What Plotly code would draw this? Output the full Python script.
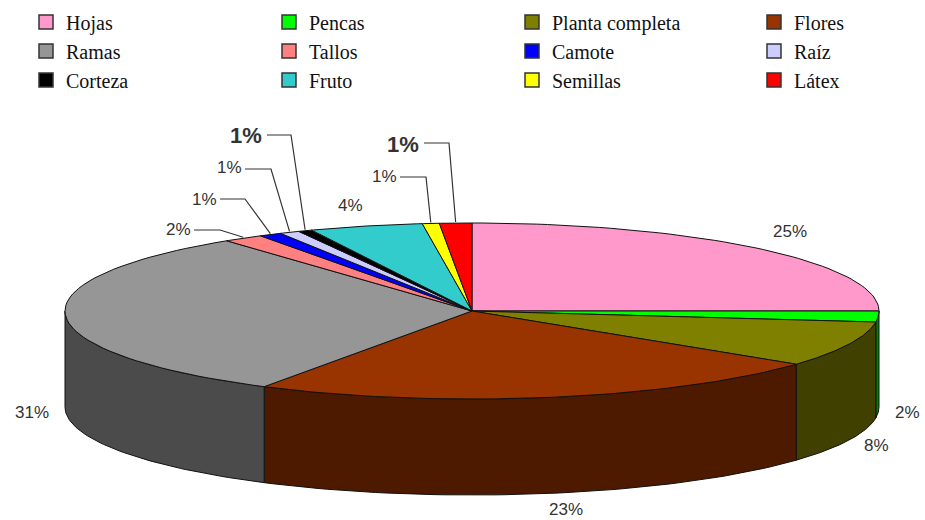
import numpy as np
import plotly.graph_objects as go

categories = ["Hojas", "Pencas", "Planta completa", "Flores", "Ramas", "Tallos",
              "Camote", "Raíz", "Corteza", "Fruto", "Semillas", "Látex"]
# shares, the printed labels are rounded
shares = [25.0, 2.0, 8.33, 23.2, 31.17, 1.6, 0.9, 0.8, 0.55, 4.5, 0.67, 1.28]
pct_labels = ["25%", "2%", "8%", "23%", "31%", "2%", "1%", "1%", "1%", "4%", "1%", "1%"]
top_colors = ["#ff99cc", "#00ff00", "#808000", "#993300", "#969696", "#ff8080",
              "#0000ff", "#ccccff", "#000000", "#33cccc", "#ffff00", "#ff0000"]
side_colors = ["#804d66", "#008000", "#404000", "#4d1a00", "#4b4b4b", "#804040",
               "#000080", "#666680", "#000000", "#1a6666", "#808000", "#800000"]

# pie geometry, in page pixels
CX, CY = 472, 311
RX, RY = 407, 88
DEPTH = 96

# label placement (text centre), and the elbow of the leader line if it has one
label_pos = [(790, 231), (907, 412), (876, 445), (566, 509), (32, 412), (178, 229),
             (204, 199), (229, 167), (246, 135), (350, 205), (384, 176), (403, 144)]
label_elbow = [None, None, None, None, None, (220, 230),
               (245, 199), (271, 169), (291, 135), None, (426, 177), (449, 143)]
label_bold = [False] * 8 + [True, False, False, True]


def rim(deg, drop=0):
    t = np.radians(deg)
    return CX + RX * np.cos(t), CY + RY * np.sin(t) + drop


edges = -90 + 3.6 * np.concatenate([[0], np.cumsum(shares)])
fig = go.Figure()

# side wall, only the front half of the disc shows
for i, color in enumerate(side_colors):
    a0, a1 = max(edges[i], 0), min(edges[i + 1], 180)
    if a1 <= a0:
        continue
    t = np.linspace(a0, a1, 60)
    x_top, y_top = rim(t)
    x_bot, y_bot = rim(t[::-1], DEPTH)
    fig.add_trace(go.Scatter(
        x=np.r_[x_top, x_bot, x_top[0]], y=np.r_[y_top, y_bot, y_top[0]],
        mode="lines", fill="toself", fillcolor=color,
        line=dict(color="#111111", width=1), hoverinfo="skip", showlegend=False))

# top face
for i, color in enumerate(top_colors):
    t = np.linspace(edges[i], edges[i + 1], 60)
    x_arc, y_arc = rim(t)
    fig.add_trace(go.Scatter(
        x=np.r_[CX, x_arc, CX], y=np.r_[CY, y_arc, CY],
        mode="lines", fill="toself", fillcolor=color,
        line=dict(color="#111111", width=1), name=categories[i],
        text=f"{categories[i]} {pct_labels[i]}", hoverinfo="text", showlegend=False))

# leader lines
for i, elbow in enumerate(label_elbow):
    if elbow is None:
        continue
    lx, ly = label_pos[i]
    half = 21 if label_bold[i] else 16
    end_x, end_y = rim((edges[i] + edges[i + 1]) / 2)
    fig.add_trace(go.Scatter(
        x=[lx + half, elbow[0], end_x], y=[elbow[1], elbow[1], end_y - 1],
        mode="lines", line=dict(color="#333333", width=1.2),
        hoverinfo="skip", showlegend=False))

# one legend per column, the four columns do not fit a single wrapped legend
legend_names = ["legend", "legend2", "legend3", "legend4"]
for i, name in enumerate(categories):
    col = i % 4
    fig.add_trace(go.Scatter(
        x=[None], y=[None], mode="markers", name=name,
        marker=dict(symbol="square", size=14, color=top_colors[i],
                    line=dict(color="#333333", width=1.5)),
        legend=legend_names[col]))

for i, txt in enumerate(pct_labels):
    fig.add_annotation(
        x=label_pos[i][0], y=label_pos[i][1], text=f"<b>{txt}</b>" if label_bold[i] else txt,
        showarrow=False, xanchor="center", yanchor="middle",
        font=dict(family="Liberation Sans", size=22 if label_bold[i] else 17, color="#333333"))

legend_style = dict(
    orientation="v", xanchor="left", yanchor="top", y=1 - 2.5 / 520,
    bgcolor="rgba(0,0,0,0)", borderwidth=0,
    font=dict(family="Liberation Serif", size=20, color="#111111"))

fig.update_layout(
    width=925, height=520, margin=dict(l=0, r=0, t=0, b=0),
    paper_bgcolor="white", plot_bgcolor="white",
    xaxis=dict(range=[0, 925], visible=False, fixedrange=True),
    yaxis=dict(range=[520, 0], visible=False, fixedrange=True),
    legend=dict(legend_style, x=26 / 925),
    legend2=dict(legend_style, x=269 / 925),
    legend3=dict(legend_style, x=512 / 925),
    legend4=dict(legend_style, x=754 / 925),
)

fig.write_html("out.html", config=dict(displayModeBar=False),
               post_script="document.body.style.margin='0';")
